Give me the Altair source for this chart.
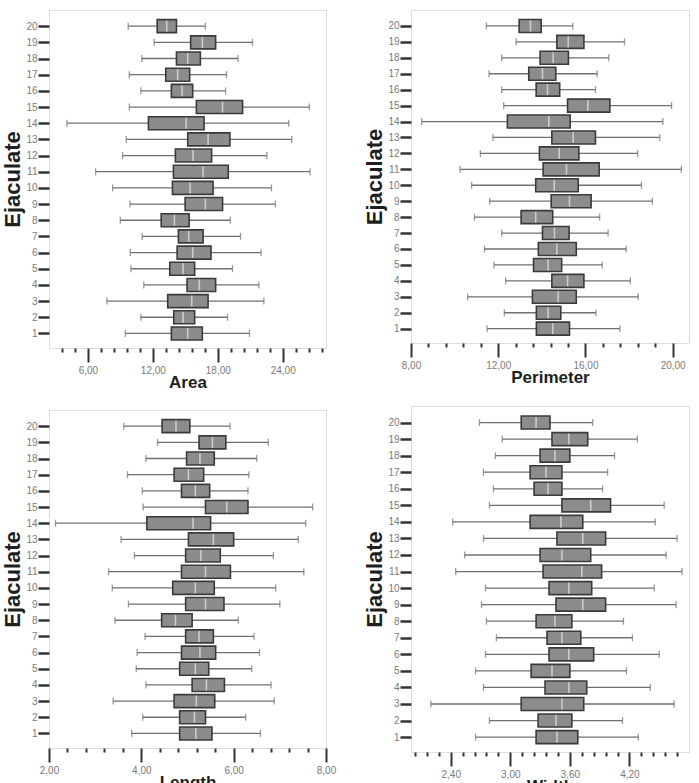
import altair as alt
import pandas as pd
import numpy as np

ejaculate = list(range(1, 21))

# Area: whisker low, Q1, median, Q3, whisker high (ejaculates 1..20)
area_low = [9.45, 10.89, 7.75, 11.16, 9.97, 9.91, 11.01, 8.99, 9.88, 8.28,
            6.71, 9.20, 9.54, 4.06, 9.82, 10.89, 9.82, 10.98, 12.12, 9.72]
area_q1 = [13.71, 13.93, 13.37, 15.16, 13.56, 14.24, 14.36, 12.77, 14.98, 13.81,
           13.90, 14.08, 15.22, 11.59, 16.02, 13.71, 13.19, 14.18, 15.49, 12.40]
area_med = [15.22, 14.79, 15.59, 16.29, 14.79, 15.68, 15.31, 13.99, 16.85, 15.44,
            16.64, 15.71, 17.10, 15.07, 18.44, 14.70, 14.29, 15.22, 16.57, 13.28]
area_q3 = [16.57, 15.86, 17.10, 17.80, 15.86, 17.37, 16.64, 15.35, 18.44, 17.56,
           18.97, 17.43, 19.12, 16.73, 20.29, 15.68, 15.40, 16.39, 17.80, 14.18]
area_high = [20.93, 18.90, 22.26, 21.79, 19.36, 22.00, 20.10, 19.15, 23.33, 22.96,
             26.53, 22.53, 24.84, 24.56, 26.46, 18.72, 18.81, 19.86, 21.21, 16.85]

# Perimeter
per_low = [11.49, 12.28, 10.60, 12.34, 11.81, 11.37, 12.16, 10.91, 11.61, 10.78,
           10.25, 11.18, 11.76, 8.49, 12.25, 12.16, 11.58, 12.16, 12.82, 11.46]
per_q1 = [13.75, 13.75, 13.57, 14.46, 13.62, 13.84, 14.03, 13.05, 14.43, 13.72,
          14.06, 13.89, 14.46, 12.42, 15.18, 13.74, 13.40, 13.92, 14.69, 12.96]
per_med = [14.50, 14.29, 14.75, 15.18, 14.29, 14.69, 14.58, 13.72, 15.27, 14.57,
           15.13, 14.80, 15.44, 14.32, 16.11, 14.26, 14.03, 14.52, 15.21, 13.48]
per_q3 = [15.27, 14.87, 15.58, 15.93, 14.91, 15.58, 15.25, 14.50, 16.26, 15.67,
          16.63, 15.70, 16.46, 15.30, 17.12, 14.82, 14.64, 15.22, 15.93, 13.97]
per_high = [17.58, 16.48, 18.42, 18.06, 16.77, 17.87, 17.04, 16.65, 19.07, 18.57,
            20.40, 18.40, 19.41, 19.55, 19.95, 16.46, 16.54, 17.07, 17.79, 15.42]

# Length
len_low = [3.79, 4.03, 3.39, 4.10, 3.89, 3.91, 4.08, 3.43, 3.72, 3.37,
           3.29, 3.85, 3.56, 2.14, 4.04, 4.02, 3.70, 4.10, 4.35, 3.62]
len_q1 = [4.83, 4.83, 4.71, 5.10, 4.83, 4.87, 4.96, 4.44, 4.96, 4.68,
          4.87, 4.96, 5.02, 4.12, 5.39, 4.87, 4.71, 4.98, 5.25, 4.45]
len_med = [5.18, 5.15, 5.19, 5.41, 5.17, 5.27, 5.25, 4.74, 5.39, 5.17,
           5.39, 5.29, 5.56, 5.12, 5.85, 5.17, 5.02, 5.27, 5.54, 4.75]
len_q3 = [5.53, 5.39, 5.59, 5.80, 5.46, 5.61, 5.56, 5.10, 5.79, 5.58,
          5.93, 5.71, 6.00, 5.50, 6.31, 5.48, 5.35, 5.58, 5.83, 5.05]
len_high = [6.58, 6.26, 6.88, 6.81, 6.39, 6.56, 6.44, 6.10, 7.00, 6.91,
            7.52, 6.86, 7.40, 7.56, 7.71, 6.31, 6.33, 6.50, 6.75, 5.92]

# Width
wid_low = [2.65, 2.79, 2.20, 2.73, 2.65, 2.75, 2.86, 2.76, 2.71, 2.75,
           2.45, 2.54, 2.73, 2.42, 2.79, 2.83, 2.73, 2.85, 2.92, 2.69]
wid_q1 = [3.26, 3.28, 3.11, 3.35, 3.21, 3.39, 3.37, 3.26, 3.46, 3.39,
          3.33, 3.30, 3.47, 3.20, 3.52, 3.24, 3.20, 3.30, 3.42, 3.11]
wid_med = [3.47, 3.46, 3.52, 3.59, 3.42, 3.59, 3.52, 3.45, 3.73, 3.59,
           3.72, 3.52, 3.73, 3.51, 3.81, 3.38, 3.36, 3.45, 3.59, 3.26]
wid_q3 = [3.68, 3.62, 3.74, 3.77, 3.60, 3.84, 3.71, 3.62, 3.96, 3.82,
          3.92, 3.81, 3.96, 3.73, 4.01, 3.52, 3.52, 3.60, 3.78, 3.40]
wid_high = [4.29, 4.13, 4.65, 4.41, 4.17, 4.50, 4.23, 4.14, 4.67, 4.45,
            4.73, 4.57, 4.68, 4.46, 4.55, 3.93, 3.98, 4.05, 4.28, 3.83]

# Axis tick labels (major) per panel
area_major = [6, 12, 18, 24]
per_major = [8, 12, 16, 20]
len_major = [2, 4, 6, 8]
wid_major = [2.4, 3.0, 3.6, 4.2]

BOX_FILL = "#8c8c8c"
BOX_STROKE = "#3a3a3a"
WHISKER = "#707070"
MEDIAN = "#e8e8e8"
FRAME = "#8a8a8a"
LABEL = "#7a7a7a"
TITLE = "#1e1e1e"
TICK = "#333333"
FONT = "Liberation Sans"


def panel(low, q1, med, q3, high, title, domain, start, step, stop, majors, w, h):
    df = pd.DataFrame({"ej": ejaculate, "low": low, "q1": q1, "med": med,
                       "q3": q3, "high": high})
    n = int(round((stop - start) / step))
    ticks = sorted(set([round(start + i * step, 2) for i in range(n + 1)] +
                       [float(m) for m in majors]))
    maj = "[" + ",".join(repr(float(m)) for m in majors) + "]"
    test = f"indexof({maj}, datum.value) >= 0"
    xaxis = alt.Axis(
        values=ticks,
        tickSize={"condition": {"test": test, "value": 14}, "value": 4},
        tickWidth=2, tickColor=TICK,
        labelExpr=f"{test} ? replace(format(datum.value, '.2f'), '.', ',') : ''",
        labelOverlap=False, labelFlush=False, labelColor=LABEL,
        labelFontSize=10, labelFont=FONT, labelPadding=3,
        domain=False, grid=False,
        titleFontSize=17, titleFontWeight="bold", titleColor=TITLE,
        titleFont=FONT, titlePadding=-1,
    )
    yaxis = alt.Axis(
        values=ejaculate, format="d", tickSize=11, tickWidth=2.5, tickColor=TICK,
        labelColor=LABEL, labelFontSize=10, labelFont=FONT, labelPadding=1,
        domain=False, grid=False,
        titleFontSize=22, titleFontWeight="bold", titleColor=TITLE,
        titleFont=FONT, titlePadding=1,
    )
    xs = alt.Scale(domain=domain, nice=False, zero=False, padding=0)
    ys = alt.Scale(domain=[0.1, 21], nice=False, zero=False, padding=0)

    def X(f):
        return alt.X(f"{f}:Q", scale=xs, axis=xaxis, title=title)

    def Y():
        return alt.Y("ej:Q", scale=ys, axis=yaxis, title="Ejaculate")

    base = alt.Chart(df)
    whisk = base.mark_rule(color=WHISKER, strokeWidth=1.3).encode(
        x=X("low"), x2="high:Q", y=Y())
    cap_lo = base.mark_tick(orient="vertical", size=7, thickness=1.3,
                            color=WHISKER).encode(x=X("low"), y=Y())
    cap_hi = base.mark_tick(orient="vertical", size=7, thickness=1.3,
                            color=WHISKER).encode(x=X("high"), y=Y())
    box = base.mark_bar(orient="horizontal", size=13, fill=BOX_FILL,
                        stroke=BOX_STROKE, strokeWidth=1.6).encode(
        x=X("q1"), x2="q3:Q", y=Y())
    medl = base.mark_tick(orient="vertical", size=11, thickness=1.6,
                          color=MEDIAN).encode(x=X("med"), y=Y())
    return alt.layer(whisk, cap_lo, cap_hi, box, medl).properties(width=w, height=h)


p1 = panel(area_low, area_q1, area_med, area_q3, area_high, "Area",
           [2.4, 28.0], 3.6, 1.2, 27.6, area_major, 277, 338)
p2 = panel(per_low, per_q1, per_med, per_q3, per_high, "Perimeter",
           [8.0, 20.75], 8.0, 0.8, 20.0, per_major, 278, 333)
p3 = panel(len_low, len_q1, len_med, len_q3, len_high, "Length",
           [2.0, 8.0], 2.0, 0.4, 8.0, len_major, 277, 338)
p4 = panel(wid_low, wid_q1, wid_med, wid_q3, wid_high, "Width",
           [2.0, 4.8], 2.04, 0.12, 4.68, wid_major, 278, 346)

chart = alt.hconcat(
    alt.vconcat(p1, p3, spacing=18),
    alt.vconcat(p2, p4, spacing=19),
    spacing=26,
).properties(
    padding={"left": 1, "top": 9, "right": 0, "bottom": 0}
).configure_view(
    stroke=FRAME, strokeWidth=1.5
).configure(background="white")

chart.save("out.html", embed_options={"renderer": "svg", "actions": False})
